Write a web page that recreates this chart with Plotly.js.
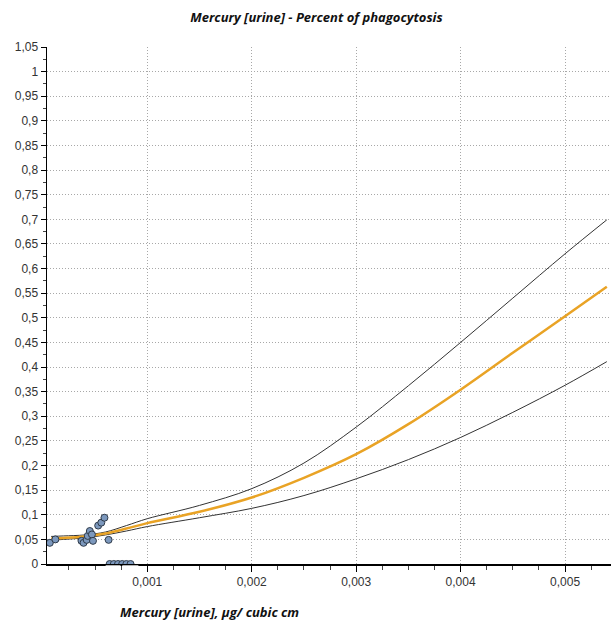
<!DOCTYPE html>
<html>
<head>
<meta charset="utf-8">
<script src="https://cdn.plot.ly/plotly-3.0.1.min.js"></script>
<style>html,body{margin:0;padding:0;background:#fff;}#chart{width:612px;height:625px;}</style>
</head>
<body>
<div id="chart"></div>
<script>
// Fitted curve and confidence bounds
var curveX = [0.00008, 0.0002, 0.0004, 0.0006, 0.0008, 0.001, 0.0015, 0.002, 0.0025, 0.003, 0.0035, 0.004, 0.0045, 0.005, 0.0054];
var fitY   = [0.052, 0.053, 0.056, 0.062, 0.072, 0.083, 0.106, 0.135, 0.175, 0.223, 0.284, 0.354, 0.429, 0.503, 0.563];
var upperY = [0.056, 0.057, 0.059, 0.065, 0.078, 0.092, 0.119, 0.153, 0.205, 0.278, 0.362, 0.450, 0.540, 0.630, 0.699];
var lowerY = [0.048, 0.050, 0.053, 0.059, 0.067, 0.076, 0.094, 0.113, 0.139, 0.173, 0.212, 0.257, 0.308, 0.363, 0.411];

// Observed points
var obsX = [0.000067, 0.00012, 0.00037, 0.00039, 0.00042, 0.00043, 0.00045, 0.00047, 0.00048, 0.00053, 0.00056, 0.00059, 0.00063,
            0.00064, 0.00068, 0.00072, 0.00076, 0.0008, 0.00084];
var obsY = [0.043, 0.050, 0.047, 0.043, 0.049, 0.057, 0.067, 0.060, 0.047, 0.078, 0.084, 0.094, 0.049,
            0, 0, 0, 0, 0, 0];

var titleText = "Mercury [urine] - Percent of phagocytosis";
var xTitleText = "Mercury [urine], µg/ cubic cm";

var traces = [
  {x: curveX, y: upperY, mode: 'lines', line: {color: '#333333', width: 1, shape: 'spline', smoothing: 1}, hoverinfo: 'skip'},
  {x: curveX, y: lowerY, mode: 'lines', line: {color: '#333333', width: 1, shape: 'spline', smoothing: 1}, hoverinfo: 'skip'},
  {x: curveX, y: fitY, mode: 'lines', line: {color: '#e9a325', width: 2.5, shape: 'spline', smoothing: 1}},
  {x: obsX, y: obsY, mode: 'markers', cliponaxis: true, marker: {size: 7, color: '#7c98bd', line: {color: '#2f3b4a', width: 1}}}
];

var maskStyle = {type: 'rect', xref: 'paper', yref: 'paper', y0: -0.0025, y1: -0.016,
                 fillcolor: '#ffffff', line: {width: 0}, layer: 'above'};

var layout = {
  width: 612, height: 625,
  margin: {l: 47, r: 1, t: 47, b: 61},
  paper_bgcolor: '#ffffff', plot_bgcolor: '#ffffff',
  showlegend: false,
  separators: ', ',
  font: {family: 'Liberation Sans, Arial, sans-serif', size: 12, color: '#333333'},
  title: {text: titleText, x: 0.517, xanchor: 'center', y: 0.972, yanchor: 'middle',
          font: {family: 'Open Sans, sans-serif', size: 13, color: '#111111', weight: 'bold', style: 'italic'}},
  xaxis: {
    range: [0.00004, 0.00544], tickmode: 'linear', tick0: 0, dtick: 0.001,
    showgrid: true, gridcolor: '#a8a8a8', griddash: '1px,2px', gridwidth: 1,
    showline: true, linecolor: '#000000', linewidth: 1.5,
    ticks: 'outside', ticklen: 6, tickcolor: '#000000', zeroline: false,
    tickfont: {size: 12, color: '#333333'},
    minor: {tickmode: 'linear', tick0: 0, dtick: 0.00025, ticks: 'outside', ticklen: 4, tickcolor: '#444444', showgrid: false}
  },
  yaxis: {
    range: [0, 1.05], tickmode: 'linear', tick0: 0, dtick: 0.05,
    showgrid: true, gridcolor: '#a8a8a8', griddash: '1px,2px', gridwidth: 1,
    showline: true, linecolor: '#000000', linewidth: 1.5,
    ticks: 'outside', ticklen: 5, tickcolor: '#000000', zeroline: false,
    tickfont: {size: 12, color: '#333333'},
    minor: {tickmode: 'linear', tick0: 0, dtick: 0.025, ticks: 'outside', ticklen: 3, tickcolor: '#444444', showgrid: false}
  },
  shapes: [
    Object.assign({}, maskStyle, {x0: 0.104, x1: 0.1303}),
    Object.assign({}, maskStyle, {x0: 0.1335, x1: 0.162})
  ],
  annotations: [{
    text: xTitleText, xref: 'paper', yref: 'paper', x: 0.126, y: -0.092,
    xanchor: 'left', yanchor: 'middle', showarrow: false,
    font: {family: 'Open Sans, sans-serif', size: 13, color: '#111111', weight: 'bold', style: 'italic'}
  }]
};

Plotly.newPlot('chart', traces, layout, {displayModeBar: false, staticPlot: true});
</script>
</body>
</html>
